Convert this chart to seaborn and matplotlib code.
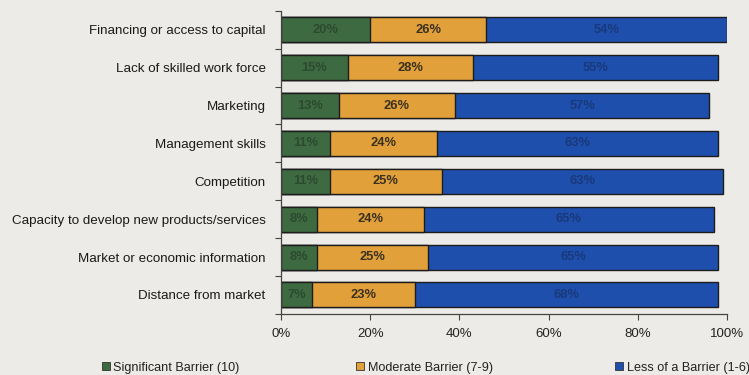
import matplotlib
matplotlib.use("Agg")
import matplotlib.pyplot as plt
from matplotlib.lines import Line2D
from matplotlib.ticker import FuncFormatter, FixedLocator
import numpy as np
import seaborn as sns

categories = [
    "Financing or access to capital",
    "Lack of skilled work force",
    "Marketing",
    "Management skills",
    "Competition",
    "Capacity to develop new products/services",
    "Market or economic information",
    "Distance from market",
]
significant = [20, 15, 13, 11, 11, 8, 8, 7]
moderate = [26, 28, 26, 24, 25, 24, 25, 23]
less = [54, 55, 57, 63, 63, 65, 65, 68]
series_names = ["Significant Barrier (10)", "Moderate Barrier (7-9)", "Less of a Barrier (1-6)"]
xticks = [0, 20, 40, 60, 80, 100]

bg = "#ecebe7"
colors = ["#3e6a41", "#e1a03a", "#1f4fac"]
label_colors = ["#2b4a2e", "#3a3020", "#18397a"]

sns.set_theme(style="white")
plt.rcParams["font.family"] = ["Liberation Sans", "DejaVu Sans"]

fig = plt.figure(figsize=(7.49, 3.75), dpi=100, facecolor=bg)
ax = fig.add_axes([0.3752, 0.163, 0.5955, 0.808])
ax.set_facecolor(bg)

sig = np.array(significant, dtype=float)
mod = np.array(moderate, dtype=float)
les = np.array(less, dtype=float)
cums = [sig, sig + mod, sig + mod + les]

# stacked bars: draw the longest cumulative segment first, shorter ones on top
for cum, col in zip(reversed(cums), reversed(colors)):
    sns.barplot(x=cum, y=categories, orient="h", color=col, saturation=1,
                width=0.66, edgecolor="#1c1c1c", linewidth=1.0, ax=ax)

starts = [np.zeros_like(sig), sig, sig + mod]
for vals, st, tc in zip([sig, mod, les], starts, label_colors):
    for i, (v, s) in enumerate(zip(vals, st)):
        ax.text(s + v / 2, i, f"{int(v)}%", ha="center", va="center",
                fontsize=9.3, fontweight="bold", color=tc)

ax.set_xlim(0, 100)
ax.set_ylim(len(categories) - 0.5, -0.5)
ax.set_xticks(xticks)
ax.xaxis.set_major_formatter(FuncFormatter(lambda v, p: f"{int(v)}%"))
ax.tick_params(axis="x", length=4, width=0.8, color="#444", labelsize=9.5,
               labelcolor="#222", pad=6, direction="out", bottom=True)
ax.tick_params(axis="y", length=0, labelsize=9.6, labelcolor="#1a1a1a", pad=11)
ax.yaxis.set_minor_locator(FixedLocator(np.arange(-0.5, len(categories), 1.0)))
ax.tick_params(axis="y", which="minor", length=4, width=0.8, color="#444", left=True)
ax.set_xlabel("")
ax.set_ylabel("")

for side in ["top", "right"]:
    ax.spines[side].set_visible(False)
for side in ["left", "bottom"]:
    ax.spines[side].set_color("#444")
    ax.spines[side].set_linewidth(0.9)

# one legend entry per series, spread along the bottom edge
legend_x = [0.136, 0.476, 0.822]
for c, name, lx in zip(colors, series_names, legend_x):
    h = Line2D([], [], marker="s", linestyle="", markersize=5.5,
               markerfacecolor=c, markeredgecolor="#333", markeredgewidth=0.6)
    fig.legend([h], [name], loc="center left", bbox_to_anchor=(lx, 0.02),
               frameon=False, fontsize=9.1, handlelength=0.6, handletextpad=0.3,
               borderpad=0, borderaxespad=0, labelcolor="#222")

fig.savefig("out.png", dpi=100, facecolor=bg)
